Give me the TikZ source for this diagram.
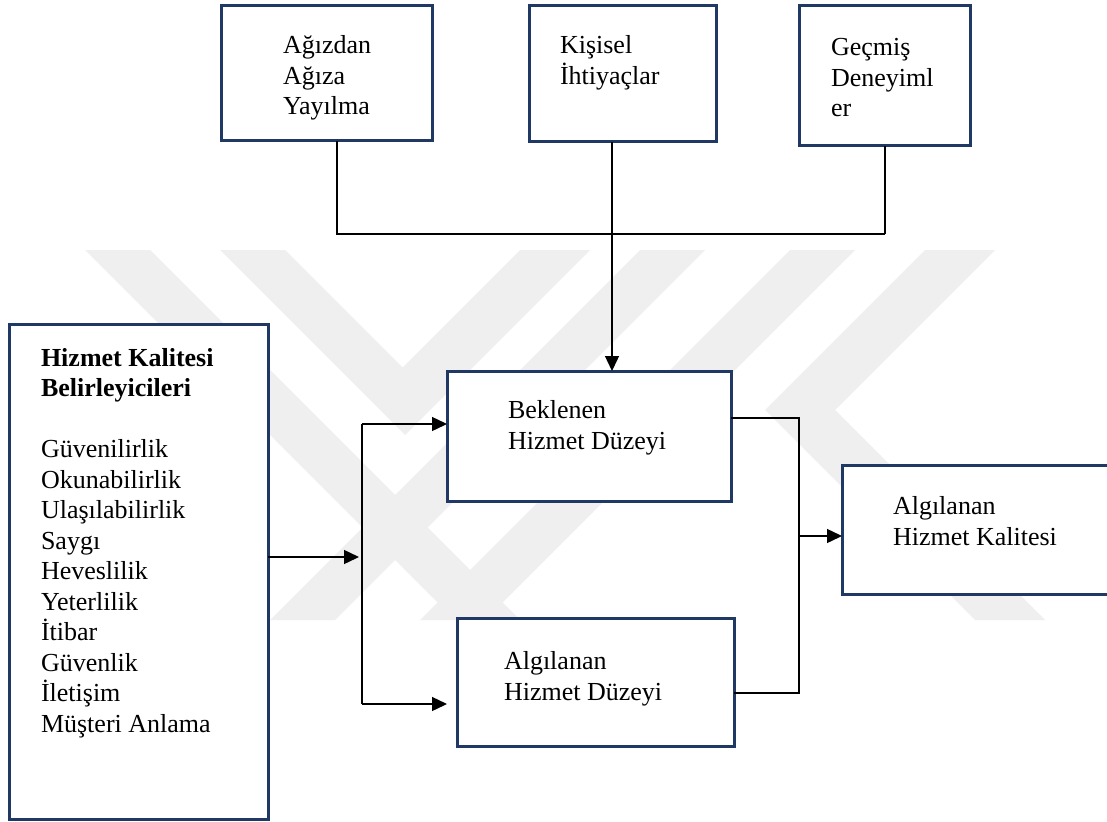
\documentclass[tikz,border=0pt]{standalone}
\usepackage{fontspec}
\setmainfont{Liberation Serif}
\usetikzlibrary{arrows.meta}
\definecolor{boxblue}{RGB}{31,56,100}
\definecolor{wm}{RGB}{239,239,239}
\begin{document}
\begin{tikzpicture}[x=1pt,y=-1pt,
  box/.style={draw=boxblue,line width=3pt,fill=white,inner sep=0pt,outer sep=0pt,anchor=north west},
  txt/.style={inner sep=0pt,outer sep=0pt,anchor=base west,align=left,font=\fontsize{26}{30.5}\selectfont},
  conn/.style={line width=1.4pt},
  arr/.style={conn,-{Triangle[length=15pt,width=14pt]}}]
\useasboundingbox (0,0) rectangle (1107,821);
\fill[white] (0,0) rectangle (1107,821);
% watermark
\fill[wm] (85,250) -- (150,250) -- (520,620) -- (455,620) -- cycle;
\fill[wm] (220,250) -- (285,250) -- (402.5,367.5) -- (520,250) -- (590,250) -- (405,435) -- cycle;
\fill[wm] (640,250) -- (705,250) -- (335,620) -- (270,620) -- cycle;
\fill[wm] (790,250) -- (855,250) -- (485,620) -- (420,620) -- cycle;
\fill[wm] (925,250) -- (995,250) -- (835,410) -- (1045,620) -- (975,620) -- (765,410) -- cycle;
% boxes
\node[box,minimum width=211pt,minimum height=135pt] (b1) at (221,6) {};
\node[box,minimum width=187pt,minimum height=136pt] (b2) at (529,6) {};
\node[box,minimum width=171pt,minimum height=140pt] (b3) at (799,6) {};
\node[box,minimum width=259pt,minimum height=495pt] (hq) at (9,324) {};
\node[box,minimum width=284pt,minimum height=130pt] (bek) at (447,371) {};
\node[box,minimum width=277pt,minimum height=128pt] (ald) at (457,618) {};
\node[box,minimum width=272pt,minimum height=129pt] (akal) at (842,465) {};
% texts (anchor = baseline of the last line)
\node[txt] (t1) at (283,115) {Ağızdan\\Ağıza\\Yayılma};
\node[txt] (t2) at (560,84.5) {Kişisel\\İhtiyaçlar};
\node[txt] (t3) at (831,117) {Geçmiş\\Deneyiml\\er};
\node[txt] (thq) at (41,732) {\textbf{Hizmet Kalitesi}\\\textbf{Belirleyicileri}\\[30.5pt]Güvenilirlik\\Okunabilirlik\\Ulaşılabilirlik\\Saygı\\Heveslilik\\Yeterlilik\\İtibar\\Güvenlik\\İletişim\\Müşteri Anlama};
\node[txt] (tbek) at (508,449) {Beklenen\\Hizmet Düzeyi};
\node[txt] (tald) at (504,700) {Algılanan\\Hizmet Düzeyi};
\node[txt] (takal) at (893,545) {Algılanan\\Hizmet Kalitesi};
% connectors
\coordinate (hL) at (337,234);
\coordinate (hR) at (885,234);
\coordinate (vK) at (612,0);
\draw[conn] (b1.south -| hL) -- (hL) -- (hR);
\draw[conn] (b3.south -| hR) -- (hR);
\draw[arr] (b2.south -| vK) -- (bek.north -| vK);
\coordinate (lt) at (359,557);
\coordinate (vt) at (362,424);
\coordinate (vb) at (362,704);
\coordinate (ae) at (447,704);
\draw[arr] (hq.east |- lt) -- (lt);
\draw[conn] (vt) -- (vb);
\draw[arr] (vt) -- (bek.west |- vt);
\draw[arr] (vb) -- (ae);
\coordinate (rt) at (799,418);
\coordinate (rb) at (799,693);
\coordinate (rm) at (799,536);
\draw[conn] (bek.east |- rt) -- (rt) -- (rb) -- (ald.east |- rb);
\draw[arr] (rm) -- (akal.west |- rm);
\end{tikzpicture}
\end{document}
